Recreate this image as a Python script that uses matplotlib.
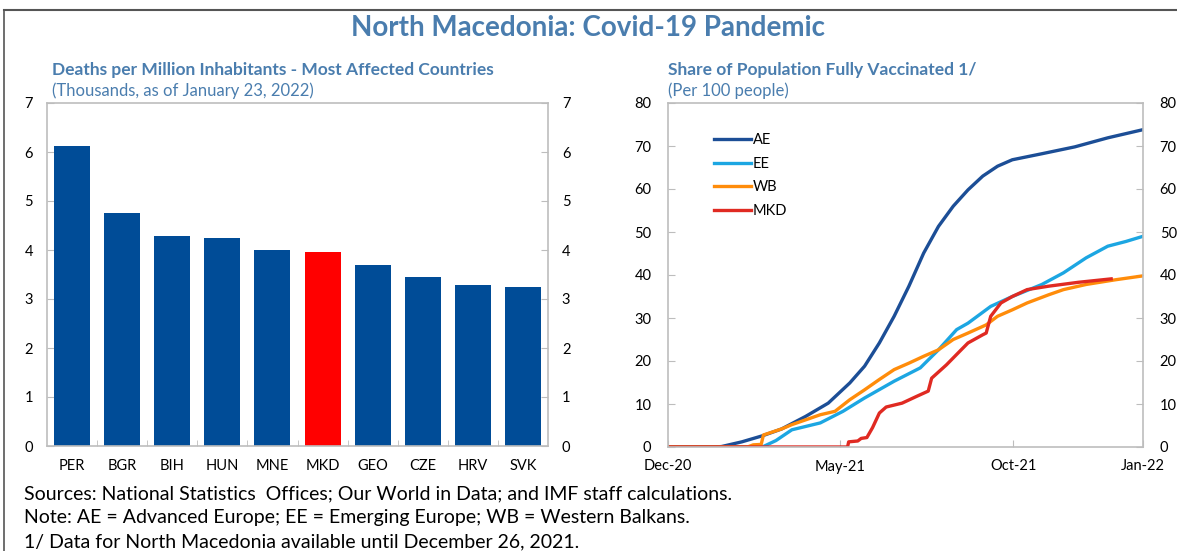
import numpy as np
import pandas as pd
import matplotlib
matplotlib.use("Agg")
import matplotlib.pyplot as plt
from matplotlib.lines import Line2D

plt.rcParams['font.family'] = ['Lato', 'DejaVu Sans']

# left panel: deaths per million (thousands)
countries = ['PER', 'BGR', 'BIH', 'HUN', 'MNE', 'MKD', 'GEO', 'CZE', 'HRV', 'SVK']
deaths = [6.12, 4.75, 4.29, 4.25, 4.01, 3.95, 3.69, 3.45, 3.28, 3.24]

# right panel: share fully vaccinated (per 100 people)
ae_dates = ['2020-12-01', '2021-01-10', '2021-01-17', '2021-02-04', '2021-02-22', '2021-03-11',
            '2021-04-01', '2021-04-21', '2021-05-10', '2021-05-23', '2021-06-05', '2021-06-18',
            '2021-07-01', '2021-07-14', '2021-07-27', '2021-08-09', '2021-08-22', '2021-09-04',
            '2021-09-17', '2021-09-30', '2021-10-26', '2021-11-24', '2021-12-23', '2022-01-23']
ae_vals = [0, 0, 0.1, 1.2, 2.6, 4.2, 7.1, 10.2, 14.9, 18.8, 24.2, 30.4,
           37.4, 45.1, 51.3, 56.0, 59.8, 63.0, 65.3, 66.8, 68.2, 69.8, 71.9, 73.8]

ee_dates = ['2020-12-01', '2021-02-22', '2021-03-06', '2021-03-20', '2021-04-14', '2021-05-04',
            '2021-05-23', '2021-06-18', '2021-07-11', '2021-07-27', '2021-08-12', '2021-08-22',
            '2021-09-11', '2021-09-30', '2021-10-26', '2021-11-14', '2021-12-04', '2021-12-23',
            '2022-01-08', '2022-01-23']
ee_vals = [0, 0, 1.5, 4.0, 5.6, 8.3, 11.4, 15.3, 18.4, 22.6, 27.3, 28.8,
           32.7, 35.0, 37.8, 40.5, 44.0, 46.7, 47.8, 49.0]

wb_dates = ['2020-12-01', '2021-02-09', '2021-02-14', '2021-02-21', '2021-02-23', '2021-03-11',
            '2021-03-20', '2021-04-14', '2021-04-27', '2021-05-10', '2021-05-23', '2021-06-05',
            '2021-06-18', '2021-07-01', '2021-07-14', '2021-07-27', '2021-08-09', '2021-08-22',
            '2021-09-07', '2021-09-17', '2021-09-30', '2021-10-13', '2021-11-01', '2021-11-14',
            '2021-12-04', '2021-12-30', '2022-01-23']
wb_vals = [0, 0, 0.5, 0.6, 2.8, 4.2, 5.2, 7.5, 8.3, 11.0, 13.3, 15.7,
           18.0, 19.5, 21.1, 22.6, 25.0, 26.5, 28.4, 30.4, 31.9, 33.5, 35.4, 36.6,
           37.8, 38.9, 39.8]

mkd_dates = ['2020-12-01', '2021-05-08', '2021-05-09', '2021-05-17', '2021-05-20', '2021-05-25',
             '2021-05-30', '2021-06-05', '2021-06-11', '2021-06-25', '2021-07-08', '2021-07-18',
             '2021-07-21', '2021-08-03', '2021-08-16', '2021-08-22', '2021-09-04', '2021-09-07',
             '2021-09-11', '2021-09-20', '2021-09-30', '2021-10-13', '2021-11-01', '2021-11-27',
             '2021-12-26']
mkd_vals = [0, 0, 1.2, 1.4, 2.0, 2.2, 4.5, 7.9, 9.3, 10.2, 11.8, 13.0,
            16.0, 19.1, 22.6, 24.2, 26.1, 26.5, 30.4, 33.5, 35.0, 36.6, 37.4, 38.3,
            39.1]

title_col = '#4A7DAE'
frame_col = '#BDBDBD'
bar_blue = '#004C97'

fig = plt.figure(figsize=(11.77, 5.51), dpi=100)
W, H = 1177, 551

def px_axes(l, t, r, b):
    return fig.add_axes([l / W, 1 - b / H, (r - l) / W, (b - t) / H])

# figure border lines (top and left)
fig.add_artist(Line2D([4 / W, 1], [1 - 10 / H, 1 - 10 / H], color='#555555', lw=1.5))
fig.add_artist(Line2D([4 / W, 4 / W], [0, 1 - 10 / H], color='#555555', lw=1.2))

fig.text(588 / W, 1 - 28 / H, 'North Macedonia: Covid-19 Pandemic', ha='center', va='center',
         fontsize=20, fontweight='bold', color=title_col)

# ---- left: bars
ax1 = px_axes(47, 103, 548, 446)
colors = ['red' if c == 'MKD' else bar_blue for c in countries]
x = np.arange(len(countries))
ax1.bar(x, deaths, width=0.72, color=colors, zorder=2)
ax1.set_xlim(-0.5, len(countries) - 0.5)
ax1.set_ylim(0, 7)
ax1.set_yticks(range(0, 8))
ax1.set_xticks(x)
ax1.set_xticklabels(countries)
ax1.set_xticks(x[:-1] + 0.5, minor=True)
ax1.tick_params(axis='x', which='major', length=0, pad=9, labelsize=10.5)
ax1.tick_params(axis='x', which='minor', direction='in', length=4, color=frame_col)
ax1.tick_params(axis='y', direction='in', length=5, color=frame_col, labelsize=10.5,
                right=True, labelright=True, pad=10)
for s in ax1.spines.values():
    s.set_color(frame_col)
    s.set_linewidth(1.2)
fig.text(52 / W, 1 - 70 / H, 'Deaths per Million Inhabitants - Most Affected Countries',
         fontsize=12.5, fontweight='bold', color=title_col, va='center')
fig.text(52 / W, 1 - 91 / H, '(Thousands, as of January 23, 2022)',
         fontsize=12, color=title_col, va='center')

# ---- right: vaccination lines
ax2 = px_axes(668, 103, 1143, 447)
series = [('AE', ae_dates, ae_vals, '#1C4E96'),
          ('EE', ee_dates, ee_vals, '#1CA6E2'),
          ('WB', wb_dates, wb_vals, '#FF8C0A'),
          ('MKD', mkd_dates, mkd_vals, '#E02A22')]
for name, d, v, c in series:
    ax2.plot(pd.to_datetime(d), v, color=c, lw=2.4, label=name)
start = pd.Timestamp('2020-12-01')
end = pd.Timestamp('2022-01-23')
ax2.set_xlim(start, end)
ax2.set_ylim(0, 80)
ax2.set_yticks(range(0, 81, 10))
xt = pd.to_datetime(['2020-12-01', '2021-05-01', '2021-10-01', '2022-01-23'])
ax2.set_xticks(xt)
ax2.set_xticklabels(['Dec-20', 'May-21', 'Oct-21', 'Jan-22'])
ax2.tick_params(axis='x', direction='in', length=5, color=frame_col, labelsize=10.5, pad=9)
ax2.tick_params(axis='y', direction='in', length=5, color=frame_col, labelsize=10.5,
                right=True, labelright=True, pad=12)
for s in ax2.spines.values():
    s.set_color(frame_col)
    s.set_linewidth(1.2)
ax2.legend(loc='upper left', bbox_to_anchor=(0.07, 0.95), frameon=False, fontsize=10.5,
           handlelength=2.5, handletextpad=0.15, labelspacing=0.65)
fig.text(668 / W, 1 - 70 / H, 'Share of Population Fully Vaccinated 1/',
         fontsize=12.5, fontweight='bold', color=title_col, va='center')
fig.text(668 / W, 1 - 91 / H, '(Per 100 people)',
         fontsize=12, color=title_col, va='center')

# footnotes
notes = ['Sources: National Statistics  Offices; Our World in Data; and IMF staff calculations.',
         'Note: AE = Advanced Europe; EE = Emerging Europe; WB = Western Balkans.',
         '1/ Data for North Macedonia available until December 26, 2021.']
for i, n in enumerate(notes):
    fig.text(24 / W, 1 - (494 + 24 * i) / H, n, fontsize=14, va='center')

fig.savefig('out.png', dpi=100)
